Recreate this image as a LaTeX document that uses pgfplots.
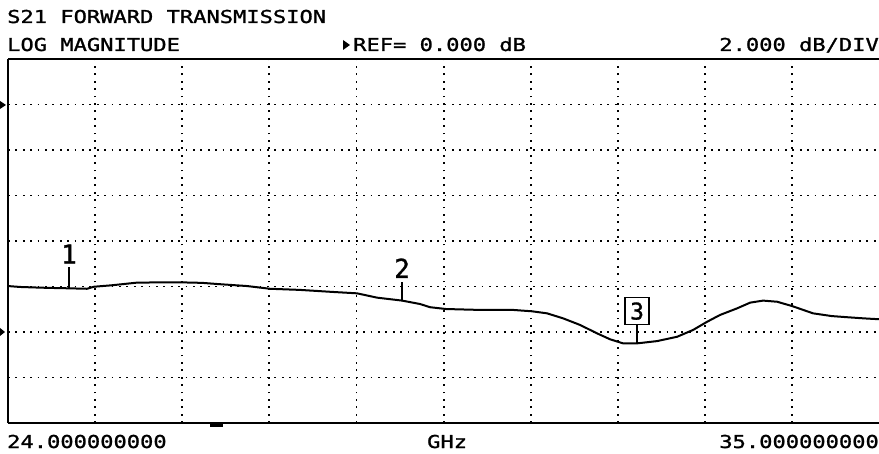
\documentclass[border=0pt]{standalone}
\usepackage{fontspec}
\usepackage{pgfplots}
\pgfplotsset{compat=1.18}
\setmonofont{DejaVu Sans Mono}[FakeStretch=1.24, FakeBold=1.3]
\newfontfamily\markfont{DejaVu Sans Mono}[FakeBold=1.3]
\begin{document}
\begin{tikzpicture}
\useasboundingbox (-8pt,-30pt) rectangle (871pt,423pt);
\begin{axis}[
  at={(0pt,0pt)}, anchor=south west,
  scale only axis, width=871.3pt, height=364pt,
  xmin=24, xmax=35, ymin=-14, ymax=2,
  xtick={25.1,26.2,27.3,28.4,29.5,30.6,31.7,32.8,33.9},
  ytick={-12,-10,-8,-6,-4,-2,0},
  xticklabels={}, yticklabels={},
  major tick length=0pt,
  grid=major,
  grid style={black, line width=1.8pt, dash pattern=on 1.8pt off 5.6pt},
  axis line style={draw=none},
  clip=false,
]
\addplot[black, line width=2pt] coordinates {
(24.000,-7.98) (24.150,-8.02) (24.316,-8.04) (24.500,-8.06) (24.770,-8.08)
(24.997,-8.10) (25.086,-8.01) (25.300,-7.95) (25.629,-7.83) (25.900,-7.82)
(26.209,-7.82) (26.450,-7.84) (26.639,-7.89) (27.018,-7.98) (27.308,-8.10)
(27.687,-8.15) (28.103,-8.24) (28.406,-8.30) (28.659,-8.49) (28.975,-8.62)
(29.202,-8.77) (29.328,-8.91) (29.530,-8.99) (29.960,-9.03) (30.376,-9.03)
(30.616,-9.09) (30.806,-9.18) (31.008,-9.40) (31.222,-9.69) (31.437,-10.06)
(31.601,-10.32) (31.765,-10.50) (31.942,-10.50) (32.194,-10.40) (32.447,-10.21)
(32.649,-9.91) (32.826,-9.55) (32.990,-9.25) (33.205,-8.96) (33.369,-8.71)
(33.533,-8.62) (33.710,-8.67) (33.899,-8.86) (34.164,-9.18) (34.400,-9.30)
(34.593,-9.35) (34.800,-9.40) (35.000,-9.44)
};
% marker 1
\draw[black, line width=1.5pt] (axis cs:24.770,-8.08) -- ++(0pt,21pt)
  node[above, inner sep=0pt, yshift=3pt, font=\markfont\fontsize{26}{26}\selectfont] {1};
% marker 2
\draw[black, line width=1.5pt] (axis cs:28.975,-8.62) -- ++(0pt,19pt)
  node[above, inner sep=0pt, yshift=3pt, font=\markfont\fontsize{26}{26}\selectfont] {2};
% marker 3
\draw[black, line width=1.5pt] (axis cs:31.942,-10.50) -- ++(0pt,18pt)
  node[above, draw, line width=1.5pt, inner sep=0pt, minimum width=24pt, minimum height=27pt,
       font=\markfont\fontsize{23}{23}\selectfont] {3};
% small bar under axis
\fill[black] ([yshift=-1pt]axis cs:26.55,-14) rectangle ([yshift=-4pt]axis cs:26.71,-14);
\end{axis}
% frame
\draw[black, line width=2pt] (0pt,0pt) -- (0pt,364pt);
\draw[black, line width=2pt] (0pt,364pt) -- (872pt,364pt);
\draw[black, line width=2.6pt] (0pt,0pt) -- (872pt,0pt);
% reference arrows
\fill[black] (-8pt,314pt) -- (-8pt,322pt) -- (-2pt,318pt) -- cycle;
\fill[black] (-8pt,87pt) -- (-8pt,95pt) -- (-3pt,91pt) -- cycle;
% header texts
\tikzset{hdr/.style={inner sep=0pt, font=\ttfamily\fontsize{17.8}{17.8}\selectfont}}
\node[hdr, anchor=base west] at (-1pt,400pt) {S21 FORWARD TRANSMISSION};
\node[hdr, anchor=base west] at (-1pt,372pt) {LOG MAGNITUDE};
\fill[black] (335pt,373pt) -- (335pt,383pt) -- (342pt,378pt) -- cycle;
\node[hdr, anchor=base west] at (345pt,372pt) {REF= 0.000 dB};
\node[hdr, anchor=base east] at (871pt,372pt) {2.000 dB/DIV};
% footer texts
\node[hdr, anchor=base west] at (-1pt,-25pt) {24.000000000};
\node[hdr, anchor=base west] at (419pt,-25pt) {GHz};
\node[hdr, anchor=base east] at (871pt,-25pt) {35.000000000};
\end{tikzpicture}
\end{document}
